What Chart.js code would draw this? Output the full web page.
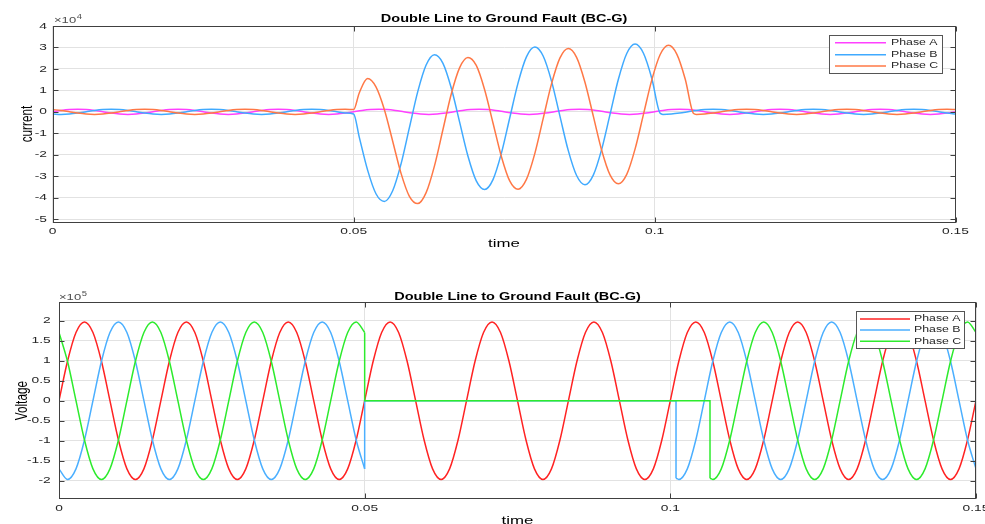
<!DOCTYPE html>
<html><head><meta charset="utf-8">
<script src="https://cdn.jsdelivr.net/npm/chart.js@4.4.1/dist/chart.umd.min.js"></script>
<style>
html,body{margin:0;padding:0;background:#fff;overflow:hidden;}
#wrap{position:relative;width:985px;height:524px;background:#fff;}
canvas{position:absolute;left:0;}
</style></head><body>
<div id="wrap">
<canvas id="cur" width="985" height="262" style="top:0px"></canvas>
<canvas id="vol" width="985" height="262" style="top:262px"></canvas>
</div>
<script>
// ---------- DATA ----------
// Readings are spaced 1/720 s (30 electrical degrees at 60 Hz).
const DT = 1/720;
const seriesNames = ['Phase A', 'Phase B', 'Phase C'];
const xTicks = [0, 0.05, 0.1, 0.15];
const currentTicks = [-5, -4, -3, -2, -1, 0, 1, 2, 3, 4];           // x10^4
const voltageTicks = [-2, -1.5, -1, -0.5, 0, 0.5, 1, 1.5, 2];      // x10^5
const faultStart = 0.05;

// Currents, units of 10^4 A
const iaValues = [
  0, 0.06, 0.104, 0.12, 0.104, 0.06, 0, -0.06, -0.104, -0.12, -0.104, -0.06,
  0, 0.06, 0.104, 0.12, 0.104, 0.06, 0, -0.06, -0.104, -0.12, -0.104, -0.06,
  0, 0.06, 0.104, 0.12, 0.104, 0.06, 0, -0.06, -0.104, -0.12, -0.104, -0.06,
  0, 0.06, 0.104, 0.12, 0.104, 0.06, 0, -0.06, -0.104, -0.12, -0.104, -0.06,
  0, 0.06, 0.104, 0.12, 0.104, 0.06, 0, -0.06, -0.104, -0.12, -0.104, -0.06,
  0, 0.06, 0.104, 0.12, 0.104, 0.06, 0, -0.06, -0.104, -0.12, -0.104, -0.06,
  0, 0.06, 0.104, 0.12, 0.104, 0.06, 0, -0.06, -0.104, -0.12, -0.104, -0.06,
  0, 0.06, 0.104, 0.12, 0.104, 0.06, 0, -0.06, -0.104, -0.12, -0.104, -0.06,
  0, 0.06, 0.104, 0.12, 0.104, 0.06, 0, -0.06, -0.104, -0.12, -0.104, -0.06,
  0];
const ibPre = [
  -0.104, -0.12, -0.104, -0.06, 0, 0.06, 0.104, 0.12, 0.104, 0.06, 0, -0.06,
  -0.104, -0.12, -0.104, -0.06, 0, 0.06, 0.104, 0.12, 0.104, 0.06, 0, -0.06,
  -0.104, -0.12, -0.104, -0.06, 0, 0.06, 0.104, 0.12, 0.104, 0.06, 0, -0.06,
  -0.104];
const ibFaultStart = 0.050933;
const ibFault = [
  -1.18, -2.72, -3.82,
  -4.18, -3.68, -2.43, -0.74, 0.94, 2.18, 2.66, 2.27, 1.12, -0.47, -2.06, -3.22,
  -3.62, -3.16, -1.94, -0.29, 1.35, 2.56, 3.02, 2.60, 1.43, -0.19, -1.80, -2.97,
  -3.40, -2.95, -1.75, -0.12, 1.52, 2.72, 3.16, 2.73, 1.55, -0.07];
const ibPostStart = 0.101389;
const ibPost = [
  -0.12, -0.104, -0.06, 0, 0.06, 0.104, 0.12, 0.104, 0.06, 0, -0.06, -0.104,
  -0.12, -0.104, -0.06, 0, 0.06, 0.104, 0.12, 0.104, 0.06, 0, -0.06, -0.104,
  -0.12, -0.104, -0.06, 0, 0.06, 0.104, 0.12, 0.104, 0.06, 0, -0.06, -0.104];
const icPre = [
  0.104, 0.06, 0, -0.06, -0.104, -0.12, -0.104, -0.06, 0, 0.06, 0.104, 0.12,
  0.104, 0.06, 0, -0.06, -0.104, -0.12, -0.104, -0.06, 0, 0.06, 0.104, 0.12,
  0.104, 0.06, 0, -0.06, -0.104, -0.12, -0.104, -0.06, 0, 0.06, 0.104, 0.12,
  0.104];
const icFaultStart = 0.050933;
const icFault = [
  0.88, 1.55, 1.16,
  0.11, -1.37, -2.87, -3.94, -4.28, -3.77, -2.52, -0.85, 0.82, 2.05, 2.53, 2.16,
  1.03, -0.52, -2.08, -3.22, -3.61, -3.15, -1.95, -0.32, 1.30, 2.50, 2.95, 2.54,
  1.38, -0.20, -1.79, -2.94, -3.36, -2.92, -1.73, -0.12, 1.49, 2.67, 3.10, 2.68,
  1.52, -0.08];
const icPostStart = 0.106944;
const icPost = [
  -0.12, -0.104, -0.06, 0, 0.06, 0.104, 0.12, 0.104, 0.06, 0, -0.06, -0.104,
  -0.12, -0.104, -0.06, 0, 0.06, 0.104, 0.12, 0.104, 0.06, 0, -0.06, -0.104,
  -0.12, -0.104, -0.06, 0, 0.06, 0.104, 0.12, 0.104];

// Voltages, units of 10^5 V
const vaValues = [
  0, 0.985, 1.706, 1.97, 1.706, 0.985, 0, -0.985, -1.706, -1.97, -1.706, -0.985,
  0, 0.985, 1.706, 1.97, 1.706, 0.985, 0, -0.985, -1.706, -1.97, -1.706, -0.985,
  0, 0.985, 1.706, 1.97, 1.706, 0.985, 0, -0.985, -1.706, -1.97, -1.706, -0.985,
  0, 0.985, 1.706, 1.97, 1.706, 0.985, 0, -0.985, -1.706, -1.97, -1.706, -0.985,
  0, 0.985, 1.706, 1.97, 1.706, 0.985, 0, -0.985, -1.706, -1.97, -1.706, -0.985,
  0, 0.985, 1.706, 1.97, 1.706, 0.985, 0, -0.985, -1.706, -1.97, -1.706, -0.985,
  0, 0.985, 1.706, 1.97, 1.706, 0.985, 0, -0.985, -1.706, -1.97, -1.706, -0.985,
  0, 0.985, 1.706, 1.97, 1.706, 0.985, 0, -0.985, -1.706, -1.97, -1.706, -0.985,
  0, 0.985, 1.706, 1.97, 1.706, 0.985, 0, -0.985, -1.706, -1.97, -1.706, -0.985,
  0];
const vbPre = [
  -1.706, -1.97, -1.706, -0.985, 0, 0.985, 1.706, 1.97, 1.706, 0.985, 0, -0.985,
  -1.706, -1.97, -1.706, -0.985, 0, 0.985, 1.706, 1.97, 1.706, 0.985, 0, -0.985,
  -1.706, -1.97, -1.706, -0.985, 0, 0.985, 1.706, 1.97, 1.706, 0.985, 0, -0.985,
  -1.706];
const vbFaultLevel = 0;
const vbReclose = [0.10093, -1.94];   // [time, voltage]
const vbPostStart = 0.101389;
const vbPost = [
  -1.97, -1.706, -0.985, 0, 0.985, 1.706, 1.97, 1.706, 0.985, 0, -0.985, -1.706,
  -1.97, -1.706, -0.985, 0, 0.985, 1.706, 1.97, 1.706, 0.985, 0, -0.985, -1.706,
  -1.97, -1.706, -0.985, 0, 0.985, 1.706, 1.97, 1.706, 0.985, 0, -0.985, -1.706];
const vcPre = [
  1.706, 0.985, 0, -0.985, -1.706, -1.97, -1.706, -0.985, 0, 0.985, 1.706, 1.97,
  1.706, 0.985, 0, -0.985, -1.706, -1.97, -1.706, -0.985, 0, 0.985, 1.706, 1.97,
  1.706, 0.985, 0, -0.985, -1.706, -1.97, -1.706, -0.985, 0, 0.985, 1.706, 1.97,
  1.706];
const vcFaultLevel = 0;
const vcReclose = [0.10649, -1.94];
const vcPostStart = 0.106944;
const vcPost = [
  -1.97, -1.706, -0.985, 0, 0.985, 1.706, 1.97, 1.706, 0.985, 0, -0.985, -1.706,
  -1.97, -1.706, -0.985, 0, 0.985, 1.706, 1.97, 1.706, 0.985, 0, -0.985, -1.706,
  -1.97, -1.706, -0.985, 0, 0.985, 1.706, 1.97, 1.706];

// ---------- BUILD ----------
function seg(t0, vals) { return vals.map((v, i) => ({x: t0 + i * DT, y: v})); }
function openSeg(pre, level, reclose) {
  return [{x: faultStart, y: pre[pre.length - 1]}, {x: faultStart, y: level},
          {x: reclose[0], y: level}, {x: reclose[0], y: reclose[1]}];
}

const FONT = '"Liberation Sans", Arial, sans-serif';
const SX = 1.45;
function txt(ctx, s, x, y, size, color, align, base, bold) {
  ctx.save();
  ctx.font = (bold ? 'bold ' : '') + size + 'px ' + FONT;
  ctx.fillStyle = color; ctx.textAlign = align; ctx.textBaseline = base;
  const w = ctx.measureText(s).width * SX;
  ctx.translate(x, y); ctx.scale(SX, 1); ctx.fillText(s, 0, 0);
  ctx.restore();
  return w;
}
function fmtNum(v) { return String(Math.round(v * 1000) / 1000); }

const framePlugin = {
  id: 'frame',
  afterDraw(chart, args, o) {
    const ctx = chart.ctx, a = chart.chartArea, xs = chart.scales.x, ys = chart.scales.y;
    ctx.save();
    ctx.strokeStyle = '#404040'; ctx.lineWidth = 1;
    const L = Math.round(a.left) + 0.5, R = Math.round(a.right) - 0.5,
          T = Math.round(a.top) + 0.5, B = Math.round(a.bottom) - 0.5;
    ctx.beginPath();
    o.yTicks.forEach(v => {
      const y = Math.round(ys.getPixelForValue(v)) + 0.5;
      ctx.moveTo(L, y); ctx.lineTo(L + 5, y); ctx.moveTo(R, y); ctx.lineTo(R - 5, y);
    });
    xTicks.forEach(v => {
      const x = Math.round(xs.getPixelForValue(v)) + 0.5;
      ctx.moveTo(x, T); ctx.lineTo(x, T + 5); ctx.moveTo(x, B); ctx.lineTo(x, B - 5);
    });
    ctx.stroke();
    ctx.strokeRect(L, T, R - L, B - T);
    // tick labels
    o.yTicks.forEach(v => txt(ctx, fmtNum(v), a.left - o.yGap, ys.getPixelForValue(v), 9.5, '#262626', 'right', 'middle'));
    xTicks.forEach(v => txt(ctx, fmtNum(v), xs.getPixelForValue(v), a.bottom + o.xGap, 9.5, '#262626', 'center', 'middle'));
    // exponent
    const ew = txt(ctx, '\u00d710', o.expX, o.expY, 9, '#505050', 'left', 'alphabetic');
    txt(ctx, o.exp, o.expX + ew + 0.5, o.expY - 4.5, 6.5, '#505050', 'left', 'alphabetic');
    // title
    txt(ctx, o.title, (a.left + a.right) / 2, o.titleY, 10, '#000', 'center', 'alphabetic', true);
    // x label
    txt(ctx, 'time', o.xLabel[0], o.xLabel[1], 11.6, '#000', 'center', 'middle');
    // y label (rotated)
    ctx.save();
    ctx.font = '11.8px ' + FONT; ctx.fillStyle = '#000';
    ctx.textAlign = 'center'; ctx.textBaseline = 'middle';
    ctx.translate(o.yLabel[0], o.yLabel[1]); ctx.rotate(-Math.PI / 2); ctx.scale(1, SX);
    ctx.fillText(o.yLabelText, 0, 0);
    ctx.restore();
    // legend
    const lg = o.legend;
    ctx.fillStyle = '#fff';
    ctx.fillRect(lg.x, lg.y, lg.w, lg.h);
    ctx.strokeStyle = '#555'; ctx.lineWidth = 1;
    ctx.strokeRect(Math.round(lg.x) + 0.5, Math.round(lg.y) + 0.5, Math.round(lg.w), Math.round(lg.h));
    seriesNames.forEach((name, i) => {
      const y = lg.rows[i];
      ctx.strokeStyle = o.colors[i]; ctx.lineWidth = 1.6;
      ctx.beginPath(); ctx.moveTo(lg.lineX0, y); ctx.lineTo(lg.lineX1, y); ctx.stroke();
      txt(ctx, name, lg.textX, y, 8.5, '#262626', 'left', 'middle');
    });
    ctx.restore();
  }
};

function lineDs(label, data, color, order, curved) {
  return {label, data, borderColor: color, backgroundColor: color, borderWidth: 1.5,
          pointRadius: 0, fill: false, order,
          cubicInterpolationMode: curved ? 'monotone' : 'default', tension: 0};
}

function makeChart(id, datasets, yMin, yMax, yStep, yWidth, pad, frameOpts) {
  return new Chart(document.getElementById(id), {
    type: 'line',
    data: {datasets},
    options: {
      responsive: false, animation: false, devicePixelRatio: 1, events: [],
      layout: {padding: pad},
      plugins: {legend: {display: false}, title: {display: false}, tooltip: {enabled: false}, frame: frameOpts},
      scales: {
        x: {type: 'linear', min: 0, max: 0.15,
            ticks: {display: false, stepSize: 0.05},
            grid: {color: '#e2e2e2', lineWidth: 1, drawTicks: false},
            border: {display: false},
            afterFit: s => { s.height = 0; }},
        y: {type: 'linear', min: yMin, max: yMax,
            ticks: {display: false, stepSize: yStep, includeBounds: false},
            grid: {color: '#e2e2e2', lineWidth: 1, drawTicks: false},
            border: {display: false},
            afterFit: s => { s.width = yWidth; }}
      }
    },
    plugins: [framePlugin]
  });
}

const curColors = ['rgb(255,64,255)', 'rgb(64,170,255)', 'rgb(255,120,70)'];
const volColors = ['rgb(255,35,35)', 'rgb(75,175,255)', 'rgb(45,235,45)'];

makeChart('cur', [
  lineDs(seriesNames[0], seg(0, iaValues), curColors[0], 2, true),
  lineDs(seriesNames[1], seg(0, ibPre).concat(seg(ibFaultStart, ibFault), seg(ibPostStart, ibPost)), curColors[1], 1, true),
  lineDs(seriesNames[2], seg(0, icPre).concat(seg(icFaultStart, icFault), seg(icPostStart, icPost)), curColors[2], 0, true)
], -5.17, 4, 1, 52.7, {top: 26, right: 29.5, bottom: 39.3, left: 0}, {
  yTicks: currentTicks, yGap: 5.7, xGap: 8.3, exp: '4', expX: 54, expY: 23,
  title: 'Double Line to Ground Fault (BC-G)', titleY: 21.5,
  xLabel: [504, 244], yLabel: [27, 124], yLabelText: 'current', colors: curColors,
  legend: {x: 829, y: 35, w: 113, h: 37.7, rows: [42.7, 54.7, 66], lineX0: 835, lineX1: 886, textX: 891}
});

makeChart('vol', [
  lineDs(seriesNames[0], seg(0, vaValues), volColors[0], 2, true),
  lineDs(seriesNames[1], seg(0, vbPre), volColors[1], 1, true),
  lineDs(seriesNames[1], openSeg(vbPre, vbFaultLevel, vbReclose), volColors[1], 1, false),
  lineDs(seriesNames[1], [{x: vbReclose[0], y: vbReclose[1]}].concat(seg(vbPostStart, vbPost)), volColors[1], 1, true),
  lineDs(seriesNames[2], seg(0, vcPre), volColors[2], 0, true),
  lineDs(seriesNames[2], openSeg(vcPre, vcFaultLevel, vcReclose), volColors[2], 0, false),
  lineDs(seriesNames[2], [{x: vcReclose[0], y: vcReclose[1]}].concat(seg(vcPostStart, vcPost)), volColors[2], 0, true)
], -2.46, 2.46, 0.5, 59, {top: 40.3, right: 9, bottom: 25, left: 0}, {
  yTicks: voltageTicks, yGap: 8.3, xGap: 9.5, exp: '5', expX: 59, expY: 38,
  title: 'Double Line to Ground Fault (BC-G)', titleY: 37.5,
  xLabel: [517.5, 259], yLabel: [22, 138.6], yLabelText: 'Voltage', colors: volColors,
  legend: {x: 855.7, y: 49, w: 108.3, h: 37.3, rows: [57, 68, 79.3], lineX0: 860, lineX1: 910, textX: 914}
});
</script>
</body></html>
